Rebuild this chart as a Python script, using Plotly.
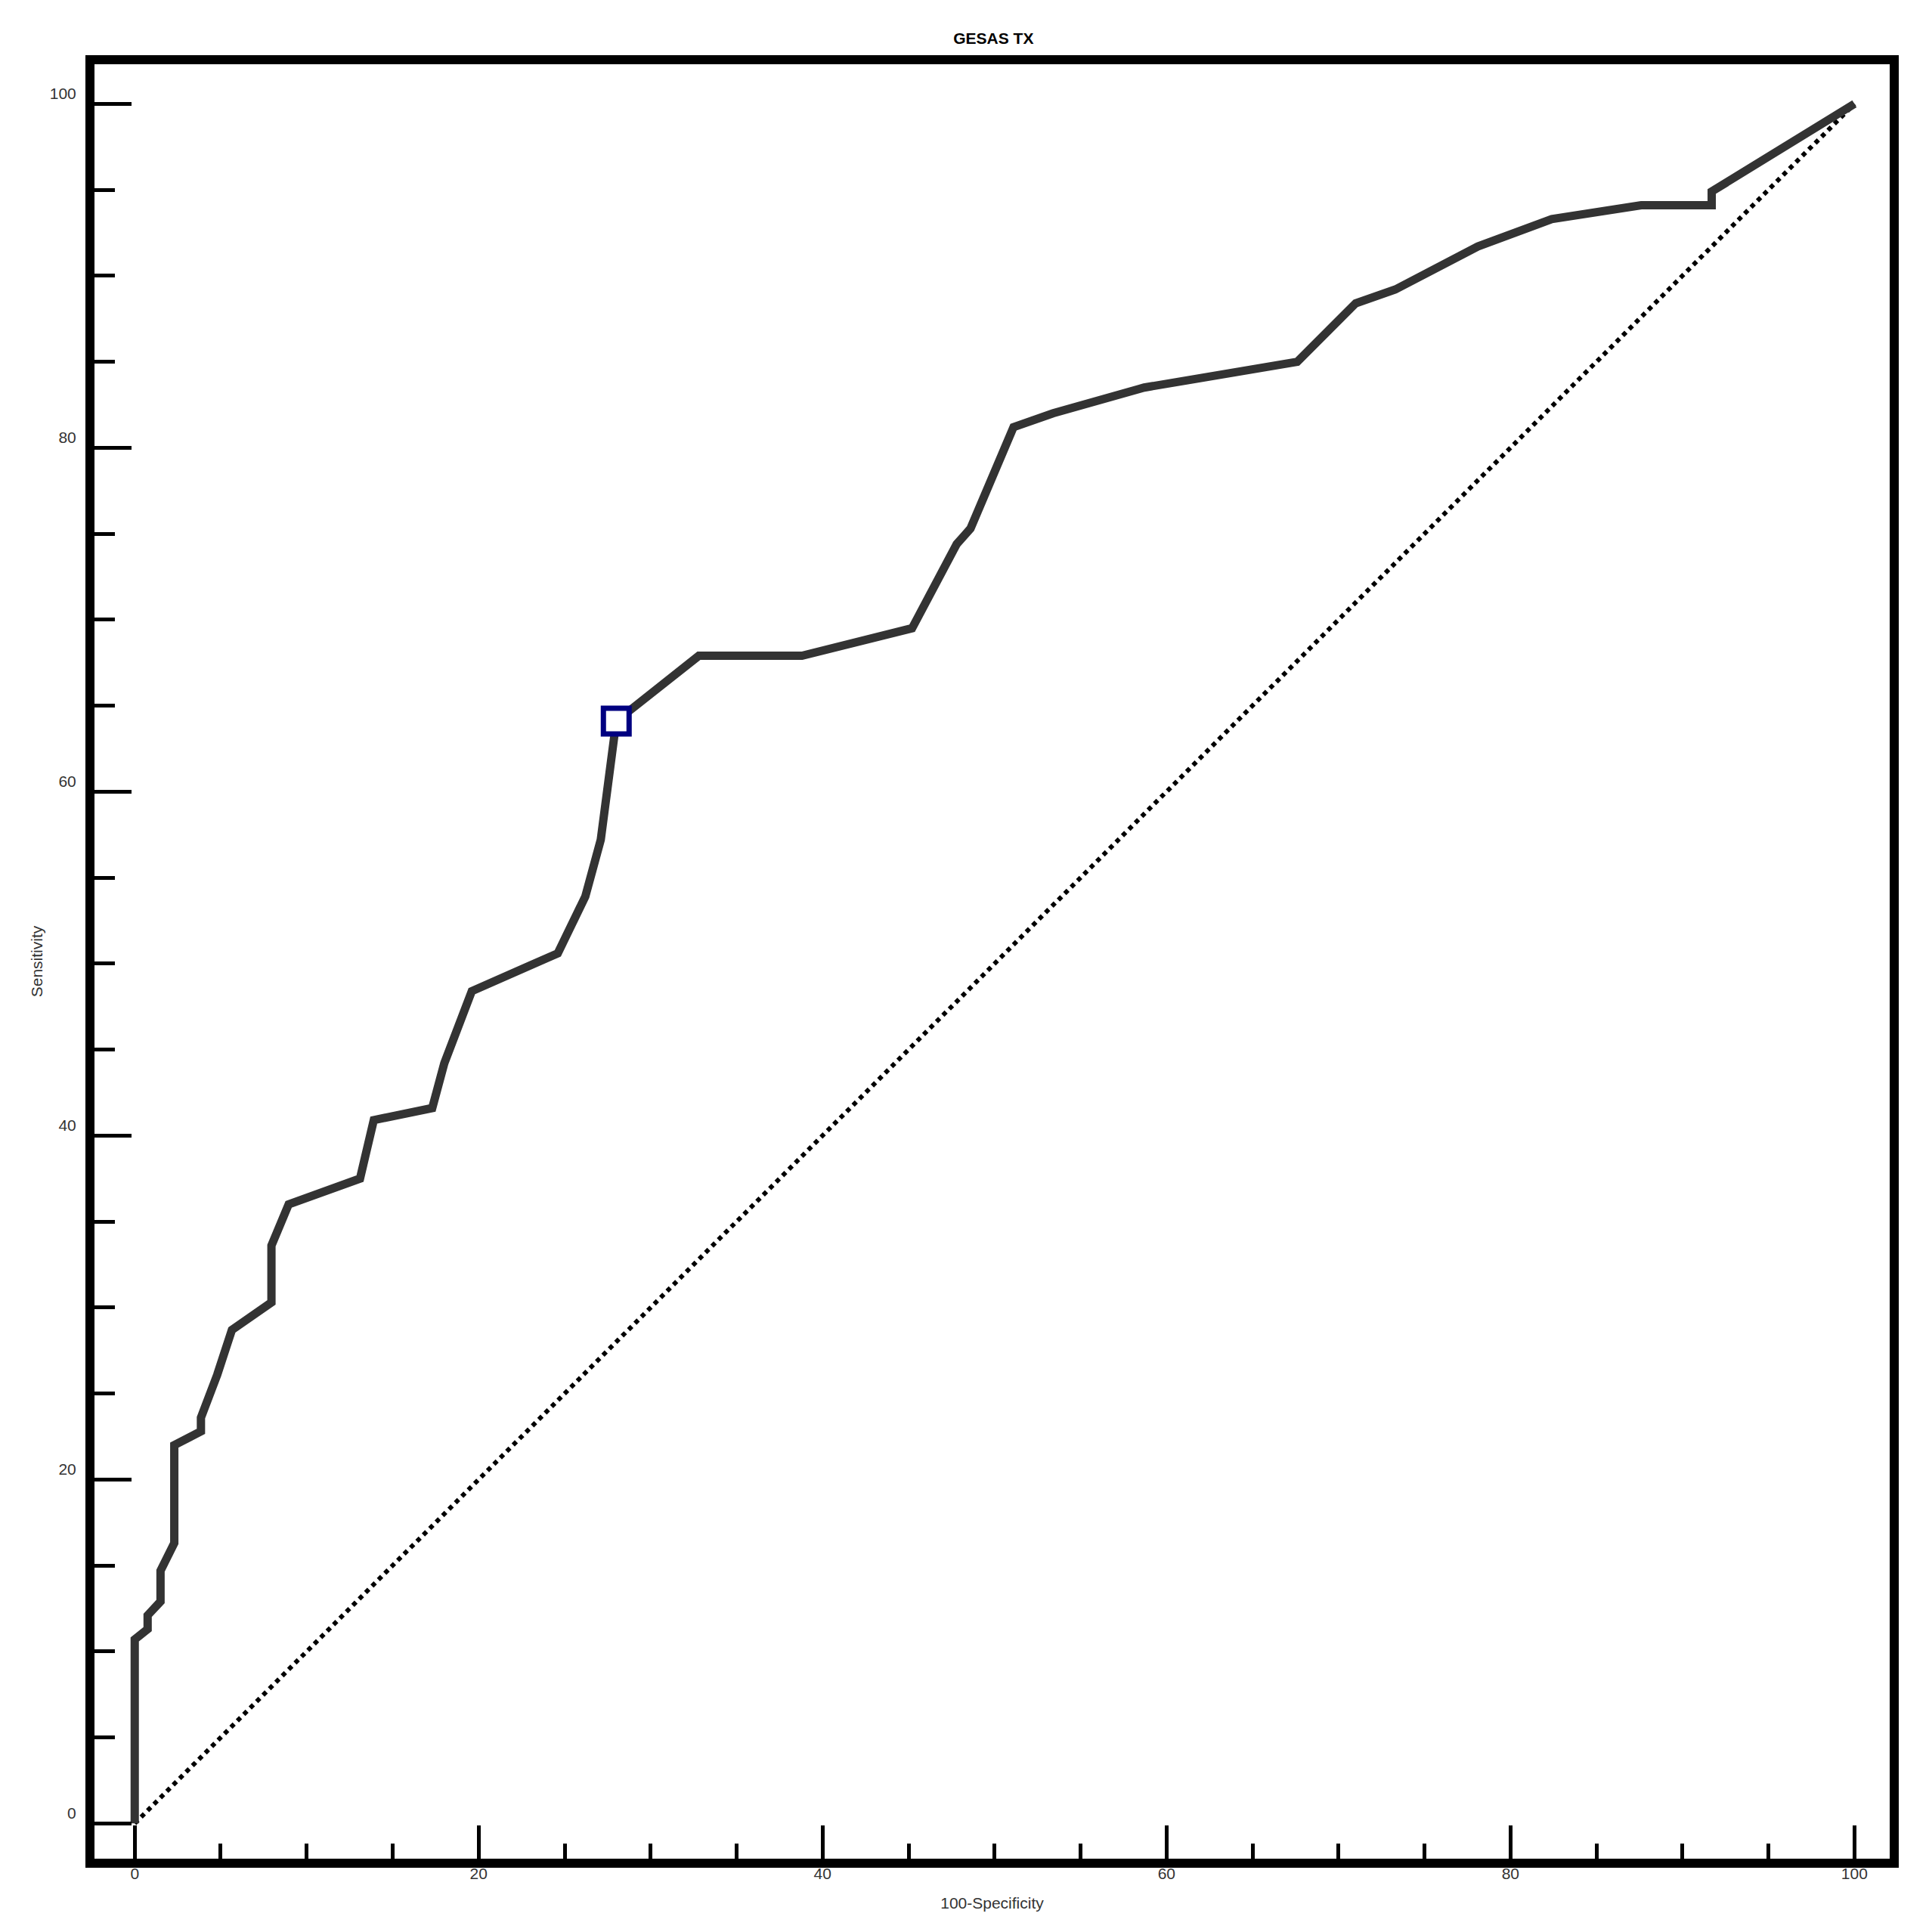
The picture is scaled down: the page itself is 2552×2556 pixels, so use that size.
import plotly.graph_objects as go

# ROC curve points (100-Specificity, Sensitivity)
fpr = [0, 0, 0.75, 0.75, 1.5, 1.5, 2.3, 2.3, 3.85, 3.85, 4.8, 5.65, 7.95, 7.95,
       8.95, 13.1, 13.9, 17.3, 18.0, 19.6, 24.6, 26.2, 27.1, 28.0, 32.8, 38.8,
       45.2, 47.8, 48.6, 51.1, 53.4, 58.7, 67.6, 71.0, 73.3, 78.1, 82.4, 87.6,
       91.7, 91.7, 100]
tpr = [0, 10.7, 11.3, 12.1, 12.9, 14.7, 16.3, 22.0, 22.8, 23.6, 26.1, 28.7, 30.3,
       33.6, 36.0, 37.5, 40.9, 41.6, 44.2, 48.4, 50.6, 53.9, 57.2, 64.1, 67.9,
       67.9, 69.5, 74.4, 75.3, 81.2, 82.0, 83.5, 85.0, 88.4, 89.2, 91.7, 93.3,
       94.1, 94.1, 94.9, 100]

# reference (chance) diagonal
diag_x = [0, 100]
diag_y = [0, 100]

# optimal criterion point
opt_x = [28.0]
opt_y = [64.1]

tick_vals = [0, 20, 40, 60, 80, 100]
tick_text = ["0", "20", "40", "60", "80", "100"]

FONT = "Liberation Sans, Arial, sans-serif"
W, H = 2544, 2548

fig = go.Figure()
fig.add_trace(go.Scatter(x=diag_x, y=diag_y, mode="lines",
                         line=dict(color="black", width=6, dash="6px,6px"),
                         hoverinfo="skip", showlegend=False))
fig.add_trace(go.Scatter(x=fpr, y=tpr, mode="lines",
                         line=dict(color="#333333", width=11),
                         showlegend=False))
fig.add_trace(go.Scatter(x=opt_x, y=opt_y, mode="markers",
                         marker=dict(symbol="square", size=34, color="white",
                                     line=dict(color="#000080", width=7)),
                         showlegend=False))

fig.update_layout(
    template="none",
    width=W, height=H,
    margin=dict(l=117, r=52, t=77, b=97, autoexpand=False),
    paper_bgcolor="white", plot_bgcolor="white",
    font=dict(family=FONT, size=21, color="#333333"),
    title=dict(text="<b>GESAS TX</b>", x=0.5135, xanchor="center",
               y=1 - 43 / H, yanchor="middle", yref="container",
               font=dict(family=FONT, size=21, color="black")),
    xaxis=dict(range=[-2.34, 102.05], showgrid=False, zeroline=False,
               automargin=False,
               showline=True, linecolor="black", linewidth=12, mirror=True,
               ticks="inside", tickvals=tick_vals, ticktext=tick_text,
               ticklen=44, tickwidth=5, tickcolor="black",
               minor=dict(dtick=5, tick0=0, ticks="inside", ticklen=20,
                          tickwidth=5, tickcolor="black", showgrid=False),
               ticklabelstandoff=-10,
               tickfont=dict(family=FONT, size=21, color="#333333"),
               title=dict(text="100-Specificity", standoff=26,
                          font=dict(family=FONT, size=21, color="#333333"))),
    yaxis=dict(range=[-2.05, 102.3], showgrid=False, zeroline=False,
               automargin=False,
               showline=True, linecolor="black", linewidth=12, mirror=True,
               ticks="inside", tickvals=tick_vals, ticktext=tick_text,
               ticklen=49, tickwidth=5, tickcolor="black",
               minor=dict(dtick=5, tick0=0, ticks="inside", ticklen=27,
                          tickwidth=5, tickcolor="black", showgrid=False),
               ticklabelshift=-14, ticklabelstandoff=8,
               tickfont=dict(family=FONT, size=21, color="#333333"),
               title=dict(text="Sensitivity", standoff=8,
                          font=dict(family=FONT, size=21, color="#333333"))),
)

fig.write_html("out.html")
